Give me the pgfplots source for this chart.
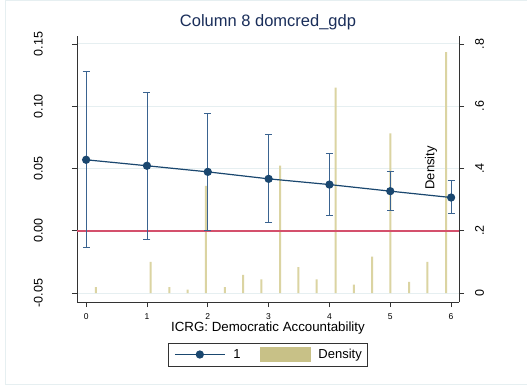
\documentclass[border=0pt]{standalone}
\usepackage{pgfplots}
\pgfplotsset{compat=1.18}
\usepackage{fontspec}
\setmainfont{Liberation Sans}
\definecolor{navy}{HTML}{1A476F}
\definecolor{ebar}{HTML}{3A6390}
\definecolor{khaki}{HTML}{DBD4A2}
\definecolor{khakileg}{HTML}{C8C187}
\definecolor{zline}{HTML}{D4506C}
\definecolor{gridc}{HTML}{E6EFF1}
\definecolor{axc}{HTML}{333333}
\definecolor{titlec}{HTML}{1A2E5A}
\begin{document}
\begin{tikzpicture}
\useasboundingbox (-77bp,-85bp) rectangle (450bp,302bp);
\fill[white] (-77bp,-85bp) rectangle (450bp,302bp);
\draw[gridc, line width=1bp] (-71bp,-82bp) rectangle (470bp,301bp);
% density (right axis)
\begin{axis}[
  at={(0,0)}, anchor=south west, scale only axis,
  width=382bp, height=266bp,
  xmin=-0.15, xmax=6.13, ymin=-0.0288, ymax=0.8256,
  axis x line=none, axis y line*=right,
  axis line style={axc, line width=1bp},
  ytick={0,0.2,0.4,0.6,0.8}, yticklabels={0,.2,.4,.6,.8},
  ymajorgrids, grid style={gridc, line width=1bp},
  tick align=outside, major tick length=5bp,
  tick style={axc, line width=0.8bp},
  yticklabel style={rotate=90, anchor=north, inner sep=0pt,
    font=\fontsize{12.5bp}{14bp}\selectfont},
  yticklabel shift=11bp,
  /pgf/number format/assume math mode=true,
]
\addplot[ybar, bar width=2bp, bar shift=0pt, fill=khaki, draw=none] coordinates {
(0.16,0.019) (1.06,0.100) (1.37,0.019) (1.67,0.011) (1.97,0.344)
(2.28,0.019) (2.58,0.058) (2.88,0.044) (3.19,0.409) (3.49,0.083)
(3.79,0.044) (4.10,0.660) (4.40,0.027) (4.70,0.117) (5.00,0.513)
(5.31,0.036) (5.61,0.100) (5.92,0.774)};
\node[rotate=90, font=\fontsize{13bp}{15bp}\selectfont] at (rel axis cs:0.927,0.504) {Density};
\end{axis}
% main (left axis)
\begin{axis}[
  at={(0,0)}, anchor=south west, scale only axis,
  width=382bp, height=266bp,
  xmin=-0.15, xmax=6.13, ymin=-0.0572, ymax=0.1564,
  axis x line*=bottom, axis y line*=left,
  axis line style={axc, line width=1bp},
  xtick={0,1,2,3,4,5,6},
  ytick={-0.05,0,0.05,0.10,0.15}, yticklabels={-0.05,0.00,0.05,0.10,0.15},
  tick align=outside, major tick length=5bp,
  tick style={axc, line width=0.8bp},
  yticklabel style={rotate=90, anchor=south, inner sep=0pt,
    font=\fontsize{12.5bp}{14bp}\selectfont},
  yticklabel shift=29bp,
  xticklabel style={anchor=north, inner sep=0pt,
    font=\fontsize{8.5bp}{10bp}\selectfont},
  xticklabel shift=6bp,
  /pgf/number format/assume math mode=true,
  title={Column 8 domcred\_gdp},
  title style={at={(0.5,1)}, anchor=base, yshift=4bp, inner sep=0pt,
    color=titlec, font=\fontsize{16.5bp}{18bp}\selectfont},
  xlabel={ICRG: Democratic Accountability},
  xlabel style={at={(0.5,0)}, anchor=north, yshift=-20bp, inner sep=0pt,
    font=\fontsize{13.3bp}{15bp}\selectfont},
  legend style={at={(0.5,-0.1974)}, anchor=center, draw=axc, line width=0.8bp,
    font=\fontsize{13bp}{15bp}\selectfont, legend columns=2,
    inner xsep=6bp, inner ysep=4bp,
    nodes={inner xsep=0pt, inner ysep=1bp},
    /tikz/every odd column/.append style={column sep=8bp},
    /tikz/every even column/.append style={column sep=19bp}},
]
\addplot[zline, line width=1.8bp, forget plot] coordinates {(-0.15,0) (6.13,0)};
\addplot[navy, line width=1.2bp, mark=*, mark size=3.5bp, mark options={navy, solid},
  legend image code/.code={\draw[navy, line width=1.2bp] (0bp,0bp) -- (50bp,0bp);
    \fill[navy] (25bp,0bp) circle (3.5bp);},
  error bars/.cd, y dir=both, y explicit,
  error bar style={ebar, line width=0.9bp},
  error mark options={ebar, line width=0.9bp, mark size=3.5bp, rotate=90},
  ] table[x=x, y=y, y error plus=ep, y error minus=em] {
x y ep em
0 0.0570 0.0708 0.0701
1 0.0522 0.0585 0.0589
2 0.0473 0.0467 0.0470
3 0.0417 0.0359 0.0353
4 0.0371 0.0247 0.0248
5 0.0318 0.0158 0.0158
6 0.0267 0.0137 0.0128
};
\addlegendentry{1}
\addlegendimage{legend image code/.code={\fill[khakileg] (0bp,-7bp) rectangle (50bp,7bp);}}
\addlegendentry{Density}
\end{axis}
\end{tikzpicture}
\end{document}
